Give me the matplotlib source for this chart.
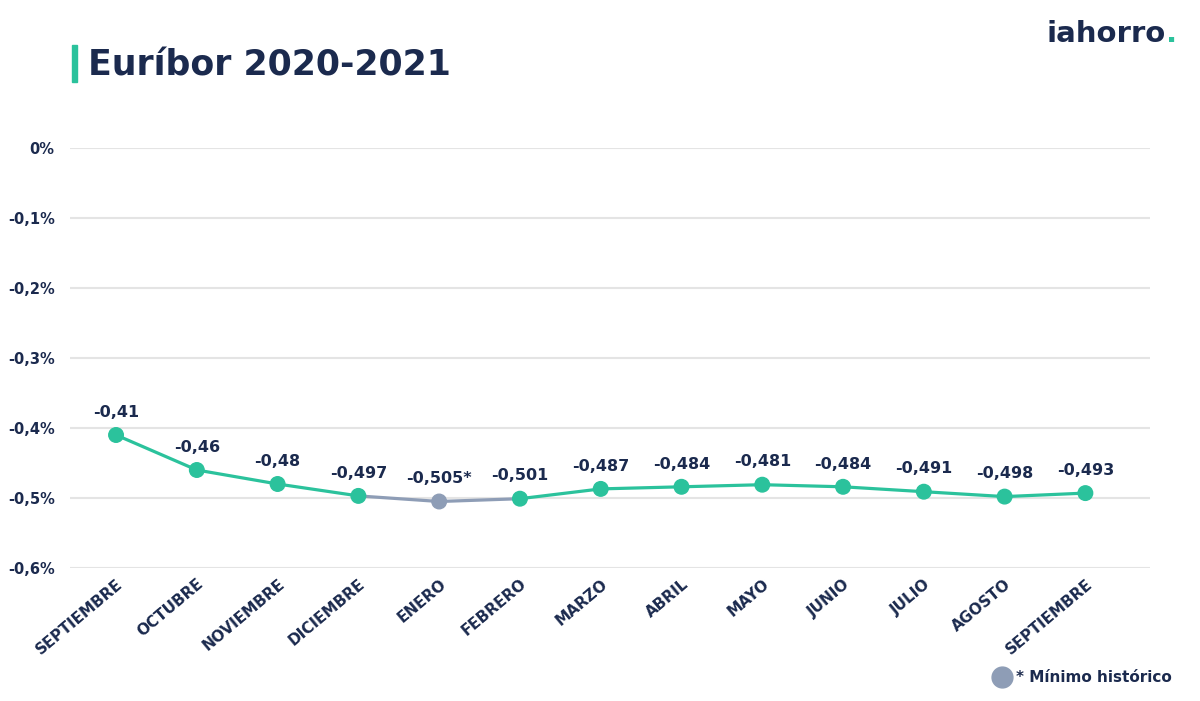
import matplotlib.pyplot as plt

months = ["SEPTIEMBRE", "OCTUBRE", "NOVIEMBRE", "DICIEMBRE", "ENERO", "FEBRERO",
          "MARZO", "ABRIL", "MAYO", "JUNIO", "JULIO", "AGOSTO", "SEPTIEMBRE"]
euribor = [-0.41, -0.46, -0.48, -0.497, -0.505, -0.501,
           -0.487, -0.484, -0.481, -0.484, -0.491, -0.498, -0.493]
point_labels = ["-0,41", "-0,46", "-0,48", "-0,497", "-0,505*", "-0,501",
                "-0,487", "-0,484", "-0,481", "-0,484", "-0,491", "-0,498", "-0,493"]
y_ticks = [0, -0.1, -0.2, -0.3, -0.4, -0.5, -0.6]
y_tick_labels = ["0%", "-0,1%", "-0,2%", "-0,3%", "-0,4%", "-0,5%", "-0,6%"]
min_idx = 4

teal = "#2bc29c"
gray = "#8e9db6"
navy = "#1b2a4e"

plt.rcParams['font.family'] = ['DejaVu Sans']

fig = plt.figure(figsize=(12, 7.01), dpi=100)
ax = fig.add_axes([70 / 1200, 1 - 568 / 701, 1080 / 1200, 420 / 701])

x = list(range(len(months)))

# line segments: gray around the historic minimum
for i in range(len(x) - 1):
    c = gray if i in (min_idx - 1, min_idx) else teal
    ax.plot(x[i:i + 2], euribor[i:i + 2], color=c, lw=2.3, zorder=2)

colors = [gray if i == min_idx else teal for i in x]
ax.scatter(x, euribor, s=110, color=colors, zorder=3)

for xi, yi, lab in zip(x, euribor, point_labels):
    ax.annotate(lab, (xi, yi), xytext=(0, 11), textcoords="offset points",
                ha="center", va="bottom", fontsize=11.5, fontweight="bold", color=navy)

ax.set_xlim(-0.57, 12.8)
ax.set_ylim(-0.6, 0)
ax.set_yticks(y_ticks)
ax.set_yticklabels(y_tick_labels, fontsize=10.5, fontweight="bold", color=navy)
ax.set_xticks(x)
ax.set_xticklabels(months, rotation=40, ha="right", va="top", rotation_mode="anchor",
                   fontsize=11, fontweight="bold", color=navy)
ax.tick_params(axis="both", length=0)
ax.tick_params(axis="y", pad=11)
ax.tick_params(axis="x", pad=6)
ax.grid(axis="y", color="#e4e4e4", lw=1.5)
ax.set_axisbelow(True)
for s in ax.spines.values():
    s.set_visible(False)

# title with accent bar
fig.patches.append(plt.Rectangle((72 / 1200, 1 - 82 / 701), 5 / 1200, 37 / 701,
                                 transform=fig.transFigure, color=teal))
fig.text(88 / 1200, 1 - 66 / 701, "Euríbor 2020-2021", fontsize=25, fontweight="bold",
         color=navy, va="center", ha="left")

# logo
fig.text(1166 / 1200, 1 - 34 / 701, "iahorro", fontsize=21, fontweight="bold",
         color=navy, va="center", ha="right")
fig.text(1166 / 1200, 1 - 34 / 701, ".", fontsize=21, fontweight="bold",
         color=teal, va="center", ha="left")

# legend
fig.add_artist(plt.Line2D([1002 / 1200], [1 - 677 / 701], marker="o", markersize=15,
                          color=gray, transform=fig.transFigure))
fig.text(1016 / 1200, 1 - 677 / 701, "* Mínimo histórico", fontsize=11,
         fontweight="bold", color=navy, va="center", ha="left")

fig.savefig("out.png", dpi=100, facecolor="white")
